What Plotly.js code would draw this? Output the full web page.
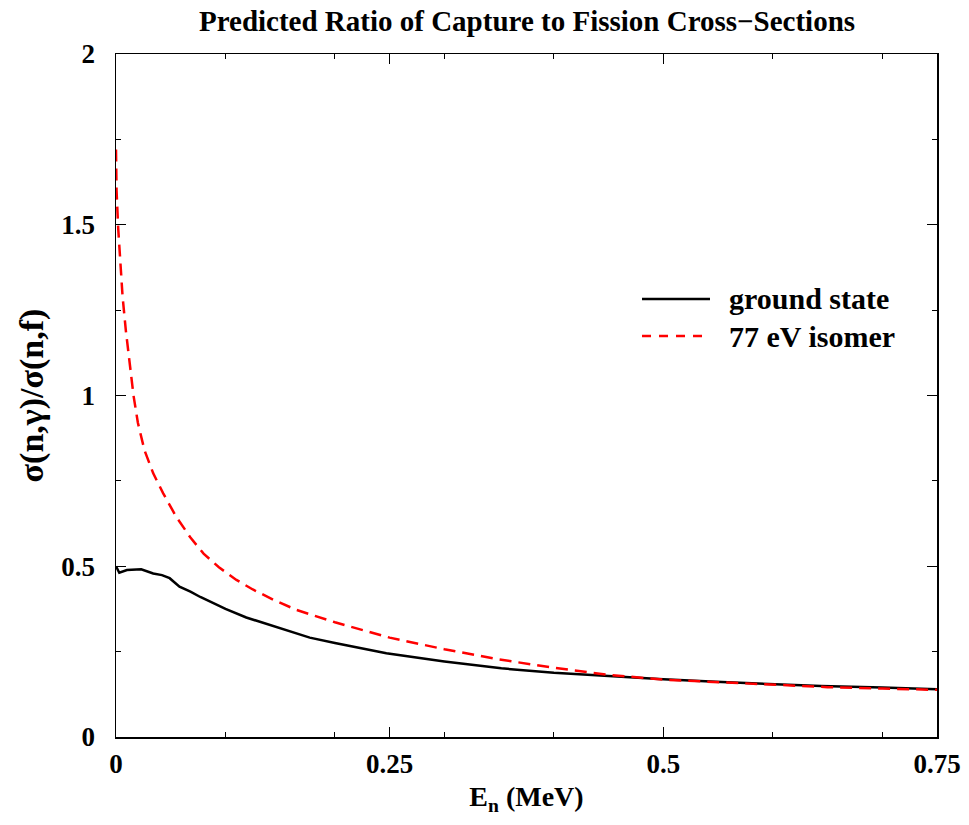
<!DOCTYPE html>
<html>
<head>
<meta charset="utf-8">
<script src="https://cdn.plot.ly/plotly-3.0.1.min.js"></script>
<style>html,body{margin:0;padding:0;background:#fff;}#chart{width:969px;height:825px;}</style>
</head>
<body>
<div id="chart"></div>
<script>
// Ground state: ratio of capture to fission cross-sections
const groundEnergy = [0, 0.003, 0.01, 0.023, 0.034, 0.042, 0.049, 0.058, 0.068, 0.077, 0.089, 0.1, 0.119, 0.15, 0.177, 0.2, 0.247, 0.3, 0.352, 0.4, 0.452, 0.5, 0.548, 0.6, 0.644, 0.7, 0.75];
const groundRatio  = [0.5, 0.481, 0.489, 0.491, 0.479, 0.474, 0.465, 0.44, 0.4255, 0.41, 0.392, 0.375, 0.35, 0.318, 0.291, 0.275, 0.245, 0.221, 0.201, 0.188, 0.177, 0.169, 0.162, 0.155, 0.149, 0.145, 0.14];

// 77 eV isomer
const isomerEnergy = [0, 0.0005, 0.002, 0.004, 0.006, 0.009, 0.012, 0.016, 0.02, 0.026, 0.034, 0.043, 0.055, 0.068, 0.08, 0.094, 0.11, 0.125, 0.145, 0.165, 0.2, 0.25, 0.3, 0.35, 0.4, 0.45, 0.5, 0.55, 0.6, 0.65, 0.7, 0.75];
const isomerRatio  = [1.72, 1.6, 1.49, 1.39, 1.29, 1.19, 1.11, 1.0, 0.92, 0.84, 0.772, 0.714, 0.645, 0.584, 0.537, 0.497, 0.46, 0.432, 0.40, 0.372, 0.336, 0.291, 0.257, 0.227, 0.203, 0.182, 0.168, 0.160, 0.152, 0.146, 0.142, 0.138];

const seriesNames = ["ground state", "77 eV isomer"];
const xTickVals = [0, 0.25, 0.5, 0.75];
const xTickText = ["0", "0.25", "0.5", "0.75"];
const yTickVals = [0, 0.5, 1, 1.5, 2];
const yTickText = ["0", "0.5", "1", "1.5", "2"];

const serif = "Liberation Serif, Times New Roman, serif";
const black = "#000000", red = "#ff0000";

const traces = [
  {x: groundEnergy, y: groundRatio, name: seriesNames[0], mode: "lines", type: "scatter",
   line: {color: black, width: 2.5}, showlegend: false},
  {x: isomerEnergy, y: isomerRatio, name: seriesNames[1], mode: "lines", type: "scatter",
   line: {color: red, width: 2.5, dash: "12px,7px"}, showlegend: false}
];

const axisCommon = {
  showgrid: false, zeroline: false, showline: true, linecolor: "#000", linewidth: 1.5,
  mirror: "allticks", ticks: "inside", ticklen: 10, tickwidth: 1.2, tickcolor: "#000",
  tickmode: "array",
  tickfont: {family: serif, size: 27, color: "#000", weight: "bold"}
};

// Legend drawn in paper space (line samples + labels)
const legendX0 = 0.6407, legendX1 = 0.7235, legendTextX = 0.7442;
const legendRows = [0.6413, 0.5871];
const legendStyles = [{color: black, width: 2.5, dash: "solid"}, {color: red, width: 2.5, dash: "9px,8px"}];
const shapes = legendRows.map((yy, i) => ({type: "line", xref: "paper", yref: "paper",
  x0: legendX0, x1: legendX1, y0: yy, y1: yy, line: legendStyles[i]}));
const annotations = legendRows.map((yy, i) => ({xref: "paper", yref: "paper", x: legendTextX, y: yy,
  xanchor: "left", yanchor: "middle", showarrow: false, text: "<b>" + seriesNames[i] + "</b>",
  font: {family: serif, size: 30, color: "#000"}}));

const layout = {
  width: 969, height: 825,
  margin: {l: 116, r: 32, t: 54, b: 88},
  paper_bgcolor: "#fff", plot_bgcolor: "#fff",
  title: {text: "<b>Predicted Ratio of Capture to Fission Cross\u2212Sections</b>",
          font: {family: serif, size: 29, color: "#000"}, x: 0.5439, xanchor: "center", y: 0.975, yanchor: "middle"},
  xaxis: Object.assign({}, axisCommon, {
    range: [0, 0.75], tickvals: xTickVals, ticktext: xTickText, ticklabelstandoff: 2,
    minor: {tickmode: "linear", tick0: 0, dtick: 0.1, ticks: "inside", ticklen: 5, tickwidth: 1, tickcolor: "#000"},
    title: {text: "<b>E<sub>n</sub> (MeV)</b>", font: {family: serif, size: 28, color: "#000"}, standoff: 8}
  }),
  yaxis: Object.assign({}, axisCommon, {
    range: [0, 2], tickvals: yTickVals, ticktext: yTickText, ticklabelstandoff: 14,
    minor: {tickmode: "linear", tick0: 0, dtick: 0.25, ticks: "inside", ticklen: 5, tickwidth: 1, tickcolor: "#000"},
    title: {text: "<b>\u03c3(n,\u03b3)/\u03c3(n,f)</b>", font: {family: serif, size: 34, color: "#000"}, standoff: 7}
  }),
  shapes: shapes,
  annotations: annotations,
  showlegend: false
};

Plotly.newPlot("chart", traces, layout, {staticPlot: true, displayModeBar: false});
</script>
</body>
</html>
